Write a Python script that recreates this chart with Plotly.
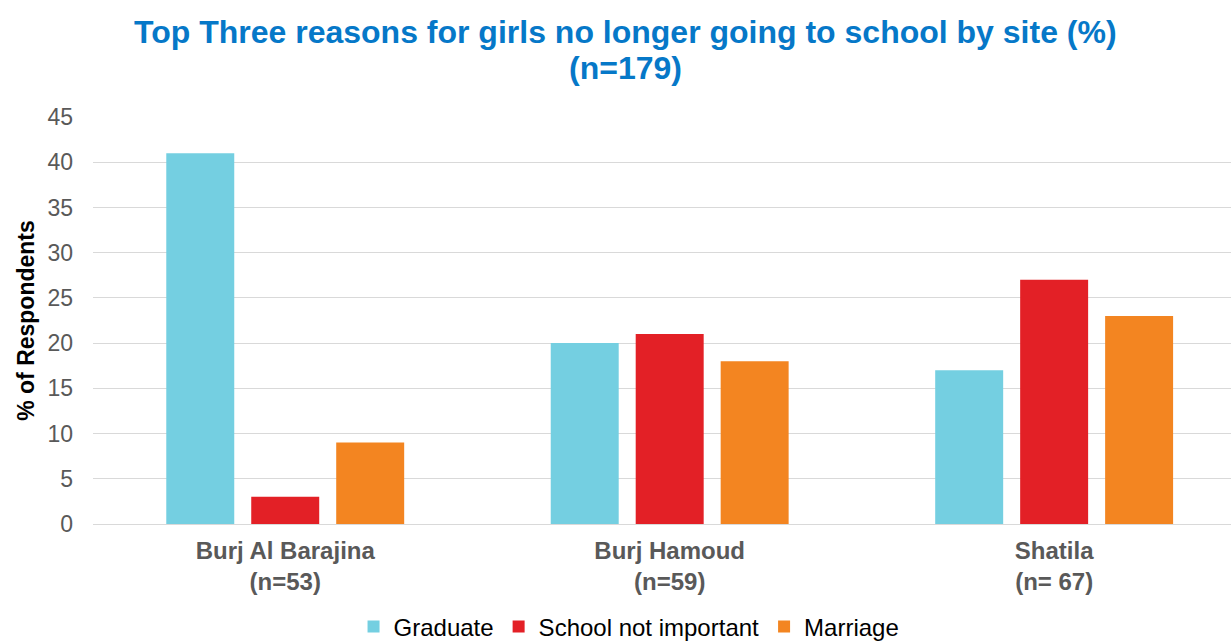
import plotly.graph_objects as go

sites = ["Burj Al Barajina<br>(n=53)", "Burj Hamoud<br>(n=59)", "Shatila<br>(n= 67)"]
graduate = [41, 20, 17]
school_not_important = [3, 21, 27]
marriage = [9, 18, 23]

series = [
    ("Graduate", graduate, "#74CFE1"),
    ("School not important", school_not_important, "#E32026"),
    ("Marriage", marriage, "#F38521"),
]

fig = go.Figure()
for name, vals, color in series:
    fig.add_trace(go.Bar(x=sites, y=vals, name=name, marker_color=color,
                         marker_line_width=0))

# two-line title drawn as annotations above the plot area
title_lines = [
    ("<b>Top Three reasons for girls no longer going to school by site (%)</b>", 1.209),
    ("<b>(n=179)</b>", 1.120),
]
for text, ypos in title_lines:
    fig.add_annotation(
        text=text, xref="paper", yref="paper", x=0.468, y=ypos,
        xanchor="center", yanchor="middle", showarrow=False,
        font=dict(size=32, color="#0678C8"),
    )

fig.update_layout(
    width=1231, height=641,
    margin=dict(l=93, r=0, t=117, b=117, autoexpand=False),
    paper_bgcolor="white", plot_bgcolor="white",
    font=dict(family="Liberation Sans, Arial, sans-serif"),
    barmode="group", bargap=0.337, bargroupgap=0.2,
    showlegend=True,
    legend=dict(orientation="h", x=0.511, xref="container", xanchor="center",
                y=0.022, yref="container", yanchor="middle",
                font=dict(size=24, color="#000000"),
                traceorder="normal"),
    xaxis=dict(
        type="category", range=[-0.5, 2.46], automargin=False,
        tickfont=dict(size=24, color="#595959"),
        showgrid=False, showline=False, ticks="", ticklabelstandoff=10,
    ),
    yaxis=dict(
        range=[0, 45], dtick=5, automargin=False,
        tickfont=dict(size=23, color="#595959"),
        gridcolor="#D9D9D9", gridwidth=1.3,
        zeroline=True, zerolinecolor="#D9D9D9", zerolinewidth=1.3,
        ticks="", ticklabelstandoff=19,
        title=dict(text="<b>% of Respondents</b>", font=dict(size=23, color="#000000"),
                   standoff=6),
    ),
)
fig.update_xaxes(tickprefix="<b>", ticksuffix="</b>")

fig.write_html("out.html")
